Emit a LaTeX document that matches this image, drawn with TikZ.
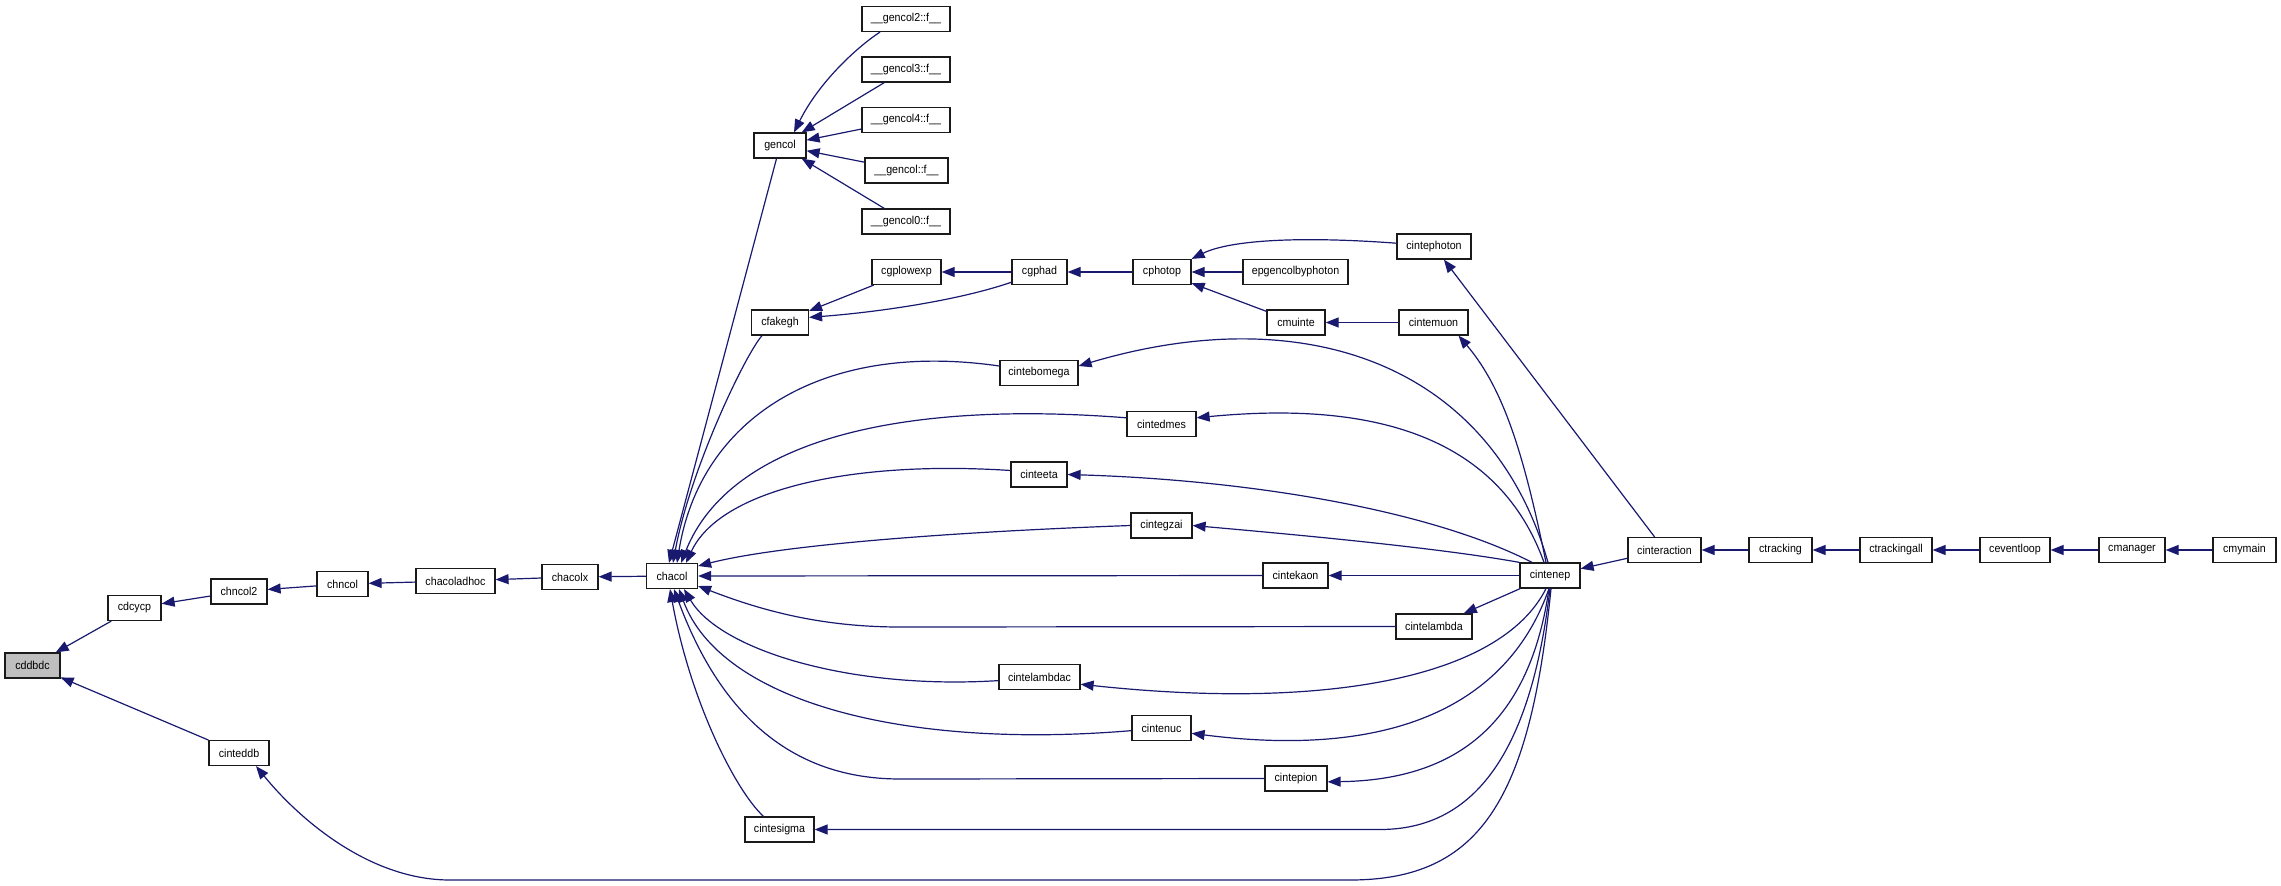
\documentclass[tikz,border=0pt]{standalone}
\usepackage{fontspec}
\setmainfont{Liberation Sans}
\newfontfamily\labfont[FakeStretch=0.93]{Liberation Sans}
\usetikzlibrary{arrows.meta}
\definecolor{edgeblue}{HTML}{191970}
\definecolor{rootgray}{HTML}{BFBFBF}
\definecolor{boxline}{HTML}{1A1A1A}
\begin{document}
\begin{tikzpicture}[x=1pt,y=-1pt,
  fn/.style={draw=boxline,line width=1.2pt,fill=white,minimum height=25pt,inner xsep=1pt,inner ysep=0pt,font=\labfont\fontsize{11.5}{13}\selectfont,anchor=center},
  root/.style={fn,fill=rootgray},
  edge/.style={draw=edgeblue,line width=1.2pt,-{Triangle[length=13pt,width=10pt]}}]
\useasboundingbox (0,0) rectangle (2281,886);
\fill[white] (0,0) rectangle (2281,886);

% nodes
\node[root,minimum width=55] (cddbdc) at (32.5,665.5) {cddbdc};
\node[fn,minimum width=53] (cdcycp) at (134.5,608) {cdcycp};
\node[fn,minimum width=56] (chncol2) at (239,591.5) {chncol2};
\node[fn,minimum width=51] (chncol) at (342.5,584) {chncol};
\node[fn,minimum width=79] (chacoladhoc) at (455.5,581) {chacoladhoc};
\node[fn,minimum width=56] (chacolx) at (570,577) {chacolx};
\node[fn,minimum width=51] (chacol) at (672,576) {chacol};
\node[fn,minimum width=60] (cinteddb) at (239,753) {cinteddb};
\node[fn,minimum width=88] (g2) at (906,19) {\_\_gencol2::f\_\_};
\node[fn,minimum width=88] (g3) at (906,69.5) {\_\_gencol3::f\_\_};
\node[fn,minimum width=88] (g4) at (906,120) {\_\_gencol4::f\_\_};
\node[fn,minimum width=83] (g1) at (906.5,170.5) {\_\_gencol::f\_\_};
\node[fn,minimum width=88] (g0) at (906,221.5) {\_\_gencol0::f\_\_};
\node[fn,minimum width=52] (gencol) at (780,145.5) {gencol};
\node[fn,minimum width=69] (cgplowexp) at (906.5,272) {cgplowexp};
\node[fn,minimum width=55] (cgphad) at (1039.5,272) {cgphad};
\node[fn,minimum width=58] (cphotop) at (1162,272) {cphotop};
\node[fn,minimum width=105] (epgen) at (1295.5,272) {epgencolbyphoton};
\node[fn,minimum width=57] (cfakegh) at (780,322.5) {cfakegh};
\node[fn,minimum width=58] (cmuinte) at (1296,322.5) {cmuinte};
\node[fn,minimum width=74] (cintephoton) at (1434,246.5) {cintephoton};
\node[fn,minimum width=69] (cintemuon) at (1433.5,322.5) {cintemuon};
\node[fn,minimum width=78] (cintebomega) at (1039,373) {cintebomega};
\node[fn,minimum width=69] (cintedmes) at (1161.5,424) {cintedmes};
\node[fn,minimum width=56] (cinteeta) at (1039,474.5) {cinteeta};
\node[fn,minimum width=61] (cintegzai) at (1161.5,525.5) {cintegzai};
\node[fn,minimum width=65] (cintekaon) at (1295.5,575.5) {cintekaon};
\node[fn,minimum width=60] (cintenep) at (1550,575.5) {cintenep};
\node[fn,minimum width=76] (cintelambda) at (1434,626.5) {cintelambda};
\node[fn,minimum width=81] (cintelambdac) at (1039.5,677) {cintelambdac};
\node[fn,minimum width=59] (cintenuc) at (1161.5,728) {cintenuc};
\node[fn,minimum width=62] (cintepion) at (1296,778.5) {cintepion};
\node[fn,minimum width=69] (cintesigma) at (779.5,829.5) {cintesigma};
\node[fn,minimum width=73] (cinteraction) at (1664.5,550) {cinteraction};
\node[fn,minimum width=63] (ctracking) at (1780.5,550) {ctracking};
\node[fn,minimum width=72] (ctrackingall) at (1896,550) {ctrackingall};
\node[fn,minimum width=70] (ceventloop) at (2015,550) {ceventloop};
\node[fn,minimum width=66] (cmanager) at (2132,550) {cmanager};
\node[fn,minimum width=63] (cmymain) at (2244.5,550) {cmymain};

% left chain
\draw[edge] (cdcycp) -- (cddbdc);
\draw[edge] (cinteddb) -- (cddbdc);
\draw[edge] (chncol2) -- (cdcycp);
\draw[edge] (chncol) -- (chncol2);
\draw[edge] (chacoladhoc) -- (chncol);
\draw[edge] (chacolx) -- (chacoladhoc);
\draw[edge] (chacol) -- (chacolx);

% into chacol (top)
\draw[edge] (gencol) -- ([xshift=-3]chacol.north);
\draw[edge] ([xshift=-18]cfakegh.south) .. controls (745,355) and (690,470) .. ([xshift=1]chacol.north);
\draw[edge] (cintebomega.170) .. controls (820,340) and (700,420) .. ([xshift=5]chacol.north);
\draw[edge] (cintedmes.170) .. controls (900,400) and (730,440) .. ([xshift=9]chacol.north);
\draw[edge] (cinteeta.172) .. controls (850,460) and (720,490) .. ([xshift=14]chacol.north);
\draw[edge] (cintegzai.west) .. controls (950,532) and (780,545) .. ([yshift=10]chacol.east);
\draw[edge] (cintekaon) -- (chacol);
\draw[edge] (cintelambda.west) -- (900,627) .. controls (820,627) and (760,610) .. ([yshift=-10]chacol.east);
% into chacol (bottom)
\draw[edge] (cintelambdac.185) .. controls (850,690) and (720,650) .. ([xshift=12]chacol.south);
\draw[edge] (cintenuc.185) .. controls (900,750) and (720,700) .. ([xshift=7]chacol.south);
\draw[edge] (cintepion.west) -- (900,779) .. controls (780,779) and (715,700) .. ([xshift=2]chacol.south);
\draw[edge] ([xshift=-16]cintesigma.north) .. controls (735,790) and (690,700) .. ([xshift=-2]chacol.south);

% gencol fan
\draw[edge] ([xshift=-26]g2.south) .. controls (860,45) and (820,80) .. ([xshift=14]gencol.north);
\draw[edge] (g3) -- (gencol);
\draw[edge] (g4) -- (gencol);
\draw[edge] (g1) -- (gencol);
\draw[edge] (g0) -- (gencol);

% photon branch
\draw[edge] (cgplowexp) -- (cfakegh);
\draw[edge] (cgphad.200) .. controls (960,300) and (880,312) .. (cfakegh.10);
\draw[edge] (cgphad) -- (cgplowexp);
\draw[edge] (cphotop) -- (cgphad);
\draw[edge] (epgen) -- (cphotop);
\draw[edge] (cmuinte) -- (cphotop);
\draw[edge] (cintemuon) -- (cmuinte);
\draw[edge] (cintephoton.175) .. controls (1300,236) and (1230,240) .. (cphotop.north east);
\draw[edge] (cinteraction) -- (cintephoton);

% from cintenep
\draw[edge] ([xshift=-4]cintenep.north) .. controls (1525,460) and (1505,390) .. ([xshift=25]cintemuon.south);
\draw[edge] ([xshift=-2]cintenep.north) .. controls (1490,360) and (1300,300) .. (cintebomega.10);
\draw[edge] ([xshift=-6]cintenep.north) .. controls (1500,440) and (1380,400) .. (cintedmes.10);
\draw[edge] ([xshift=-18]cintenep.north) .. controls (1430,510) and (1250,480) .. (cinteeta.east);
\draw[edge] (cintenep.north west) .. controls (1440,548) and (1300,535) .. (cintegzai.east);
\draw[edge] (cintenep) -- (cintekaon);
\draw[edge] (cintenep) -- (cintelambda);
\draw[edge] ([xshift=-4]cintenep.south) .. controls (1500,680) and (1320,710) .. (cintelambdac.-10);
\draw[edge] ([xshift=-1]cintenep.south) .. controls (1510,700) and (1400,760) .. (cintenuc.-10);
\draw[edge] ([xshift=-1]cintenep.south) .. controls (1530,720) and (1460,780) .. (cintepion.-6);
\draw[edge] (cintenep.south) .. controls (1530,760) and (1470,829.5) .. (1380,829.5) -- (cintesigma.east);
\draw[edge] ([xshift=1]cintenep.south) .. controls (1530,800) and (1480,880) .. (1350,880) -- (450,880) .. controls (370,880) and (300,820) .. ([xshift=17]cinteddb.south);

% right chain
\draw[edge] (cinteraction) -- (cintenep);
\draw[edge] (ctracking) -- (cinteraction);
\draw[edge] (ctrackingall) -- (ctracking);
\draw[edge] (ceventloop) -- (ctrackingall);
\draw[edge] (cmanager) -- (ceventloop);
\draw[edge] (cmymain) -- (cmanager);
\end{tikzpicture}
\end{document}
